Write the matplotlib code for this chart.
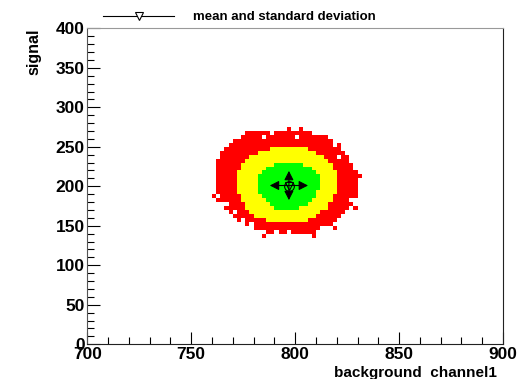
import numpy as np
import matplotlib.pyplot as plt
from matplotlib.colors import ListedColormap
from matplotlib.lines import Line2D
from matplotlib.ticker import MultipleLocator

plt.rcParams['font.family'] = ['Liberation Sans', 'DejaVu Sans']
plt.rcParams['font.weight'] = 'bold'

# histogram binning
x_edges = np.arange(700, 902, 2)
y_edges = np.arange(0, 405, 5)

# contour bands per y-bin row: (row low edge, x low edge, x high edge)
red_rows = [
    (265, 778, 810), (260, 774, 816), (255, 772, 818), (250, 768, 820),
    (245, 766, 822), (240, 764, 824), (235, 764, 826), (230, 762, 826),
    (225, 762, 828), (220, 762, 828), (215, 762, 830), (210, 762, 830),
    (205, 762, 830), (200, 762, 830), (195, 762, 830), (190, 762, 830),
    (185, 764, 830), (180, 764, 828), (175, 766, 828), (170, 766, 826),
    (165, 768, 824), (160, 770, 822), (155, 772, 820), (150, 776, 818),
    (145, 780, 814), (140, 786, 810),
]
yellow_rows = [
    (245, 788, 806), (240, 782, 810), (235, 778, 814), (230, 776, 816),
    (225, 774, 818), (220, 774, 818), (215, 772, 820), (210, 772, 820),
    (205, 772, 820), (200, 772, 820), (195, 772, 820), (190, 772, 820),
    (185, 774, 818), (180, 774, 818), (175, 776, 816), (170, 776, 816),
    (165, 778, 812), (160, 780, 810), (155, 786, 806),
]
green_rows = [
    (225, 790, 804), (220, 786, 808), (215, 784, 810), (210, 782, 812),
    (205, 782, 812), (200, 782, 812), (195, 782, 812), (190, 782, 810),
    (185, 784, 810), (180, 786, 808), (175, 788, 806), (170, 790, 802),
]
# isolated low-level bins outside the band and empty bins inside it
stray_bins = [(760, 185), (796, 270), (802, 270), (826, 225), (830, 210),
              (828, 170), (808, 135), (770, 255), (776, 265), (814, 260),
              (820, 250), (762, 180), (784, 135), (818, 145)]
empty_bins = [(820, 235), (784, 260), (800, 260), (808, 265), (774, 155),
              (778, 150), (812, 145), (818, 250), (770, 165), (790, 140),
              (788, 265), (766, 175), (826, 180), (796, 140)]

# mean and standard deviation
mean_x, mean_y = 797.0, 201.0
std_x, std_y = 9.2, 18.5

levels = np.zeros((len(y_edges) - 1, len(x_edges) - 1))


def fill(rows, level):
    for y0, xlo, xhi in rows:
        iy = int((y0 - y_edges[0]) / 5)
        ix0 = int((xlo - x_edges[0]) / 2)
        ix1 = int((xhi - x_edges[0]) / 2)
        levels[iy, ix0:ix1] = level


fill(red_rows, 1)
fill(yellow_rows, 2)
fill(green_rows, 3)
for xb, yb in stray_bins:
    levels[int(yb / 5), int((xb - 700) / 2)] = 1
for xb, yb in empty_bins:
    levels[int(yb / 5), int((xb - 700) / 2)] = 0

fig = plt.figure(figsize=(5.31, 3.79), dpi=100)
ax = fig.add_axes([0.1644, 0.0916, 0.7829, 0.8337])

cmap = ListedColormap(['#ff0000', '#ffff00', '#00ff00'])
ax.pcolormesh(x_edges, y_edges, np.ma.masked_equal(levels, 0),
              cmap=cmap, vmin=0.5, vmax=3.5)

# error bars with arrow heads
arrow = dict(arrowstyle='-|>,head_length=0.55,head_width=0.28',
             color='black', lw=0.8, shrinkA=0, shrinkB=0, mutation_scale=10)
for dx, dy in [(std_x, 0), (-std_x, 0), (0, std_y), (0, -std_y)]:
    ax.annotate('', xy=(mean_x + dx, mean_y + dy), xytext=(mean_x, mean_y),
                arrowprops=arrow)
ax.plot(mean_x, mean_y, marker='o', ms=7, mfc='none', mec='black', mew=0.8)
ax.plot(mean_x, mean_y, marker='v', ms=6, mfc='none', mec='black', mew=0.8)

ax.set_xlim(700, 900)
ax.set_ylim(0, 400)
ax.xaxis.set_major_locator(MultipleLocator(50))
ax.xaxis.set_minor_locator(MultipleLocator(10))
ax.yaxis.set_major_locator(MultipleLocator(50))
ax.yaxis.set_minor_locator(MultipleLocator(10))
ax.tick_params(which='both', direction='in', top=False, right=False,
               labelsize=12.5, width=0.8)
ax.tick_params(which='major', length=9, pad=2)
ax.tick_params(which='minor', length=5)

ax.spines['top'].set_color('#999999')
ax.spines['left'].set_color('#555555')
ax.spines['right'].set_color('#222222')
ax.spines['bottom'].set_color('#222222')

ax.set_xlabel('background  channel1', loc='right', fontsize=11,
              fontweight='bold')
ax.xaxis.set_label_coords(0.985, -0.07)
ax.set_ylabel('signal', loc='top', fontsize=11.5, fontweight='bold')
ax.yaxis.set_label_coords(-0.111, 1.0)

handle = Line2D([], [], color='black', lw=0.8, marker='v', ms=6,
                mfc='white', mec='black', mew=0.8)
fig.legend([handle], ['mean and standard deviation'], loc='center left',
           bbox_to_anchor=(0.194, 0.955), frameon=False, fontsize=9.5,
           handlelength=5.4, handletextpad=1.4, borderpad=0,
           borderaxespad=0)

fig.savefig('out.png', dpi=100)
